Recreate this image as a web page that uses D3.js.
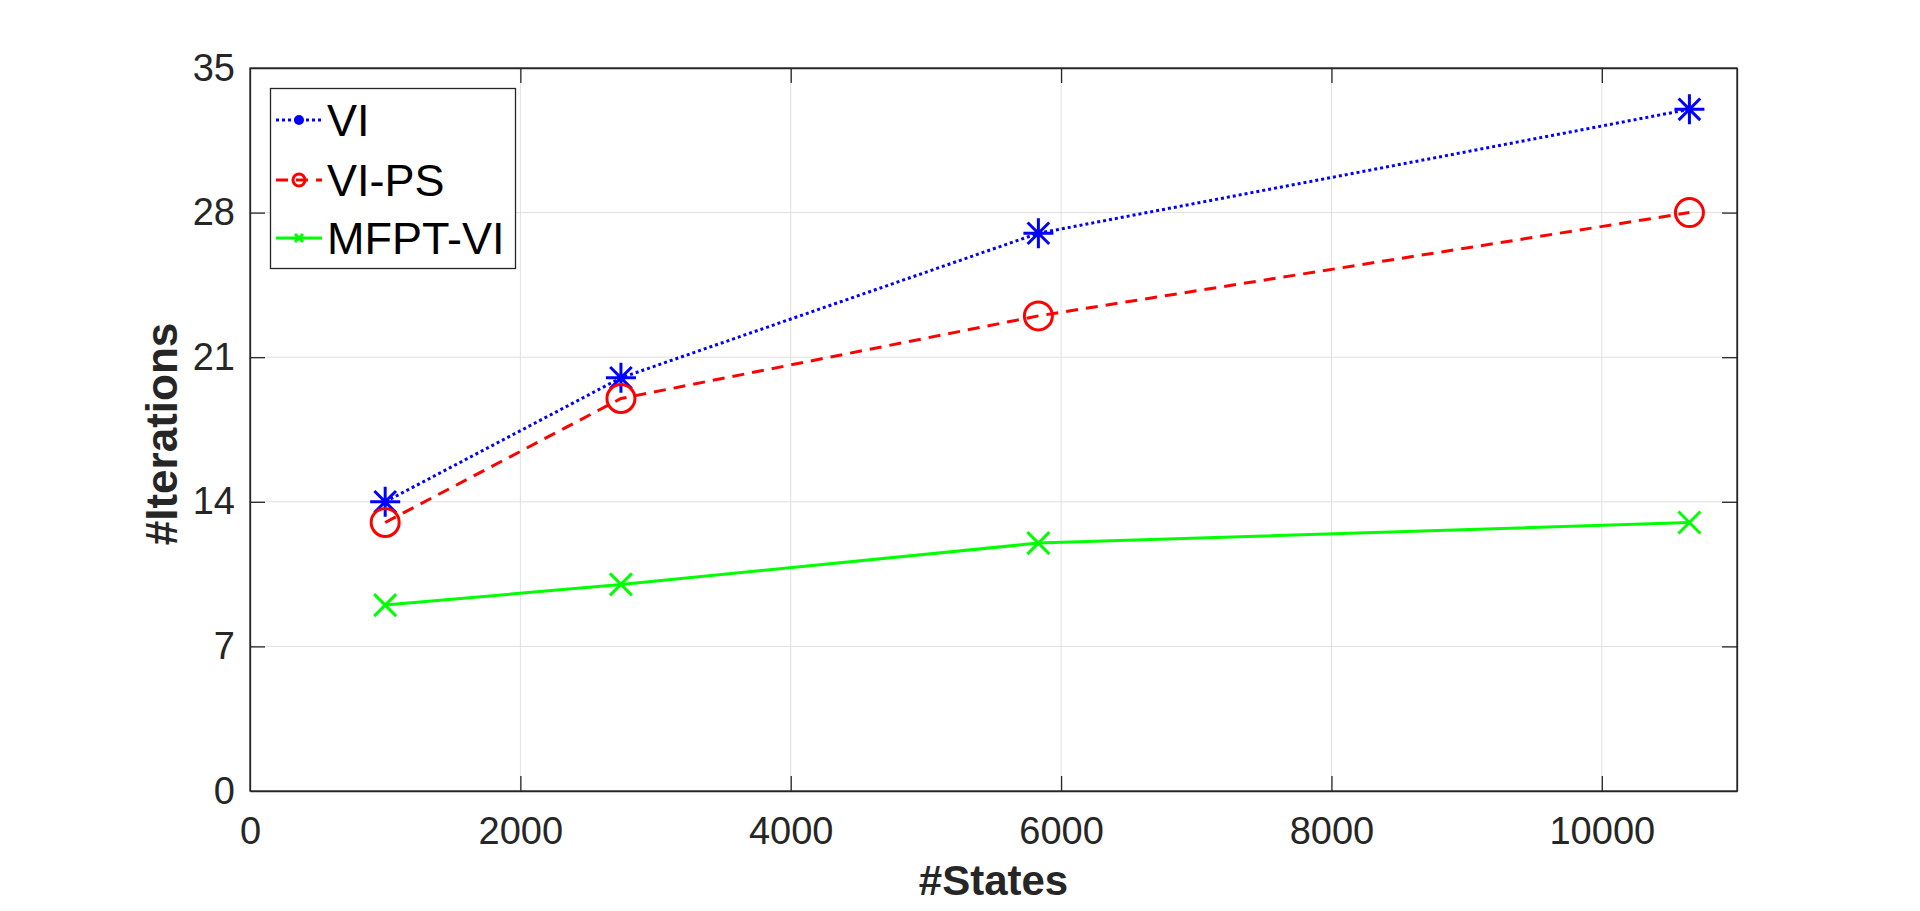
<!DOCTYPE html>
<html>
<head>
<meta charset="utf-8">
<script src="https://cdn.jsdelivr.net/npm/d3@7"></script>
<style>
  body { margin: 0; background: #fff; }
  text { font-family: Arial, "Liberation Sans", sans-serif; }
</style>
</head>
<body>
<svg id="chart" width="1920" height="911"></svg>
<script>
const states = [1000, 2744, 5832, 10648];
const viIters = [14, 20, 27, 33];
const vipsIters = [13, 19, 23, 28];
const mfptIters = [9, 10, 12, 13];
const xTicks = [0, 2000, 4000, 6000, 8000, 10000];
const yTicks = [0, 7, 14, 21, 28, 35];

const width = 1920, height = 911;
const margin = {left: 250, right: 183, top: 68, bottom: 120}; // plot box 250..1737, 68..791

const svg = d3.select("#chart");
svg.append("rect").attr("width", width).attr("height", height).attr("fill", "#fff");

const x = d3.scaleLinear().domain([0, 11000]).range([margin.left, width - margin.right]);
const y = d3.scaleLinear().domain([0, 35]).range([height - margin.bottom, margin.top]);

const axisColor = "#262626";

// grid
svg.append("g").selectAll("line")
    .data(xTicks.slice(1))
    .enter().append("line")
    .attr("x1", d => x(d)).attr("x2", d => x(d))
    .attr("y1", y(0)).attr("y2", y(35))
    .attr("stroke", "#dfdfdf").attr("stroke-width", 1);
svg.append("g").selectAll("line")
    .data(yTicks.slice(1, -1))
    .enter().append("line")
    .attr("x1", x(0)).attr("x2", x(11000))
    .attr("y1", d => y(d)).attr("y2", d => y(d))
    .attr("stroke", "#dfdfdf").attr("stroke-width", 1);

// axes with inward ticks, mirrored on top/right
const tickLen = 15;
const fmt = d3.format("d");
const bottomAxis = svg.append("g")
    .attr("transform", `translate(0,${y(0)})`)
    .call(d3.axisBottom(x).tickValues(xTicks).tickFormat(fmt).tickSizeInner(-tickLen).tickSizeOuter(0).tickPadding(26));
const topAxis = svg.append("g")
    .attr("transform", `translate(0,${y(35)})`)
    .call(d3.axisTop(x).tickValues(xTicks).tickSizeInner(-tickLen).tickSizeOuter(0).tickFormat(""));
const leftAxis = svg.append("g")
    .attr("transform", `translate(${x(0)},0)`)
    .call(d3.axisLeft(y).tickValues(yTicks).tickFormat(fmt).tickSizeInner(-tickLen).tickSizeOuter(0).tickPadding(15));
const rightAxis = svg.append("g")
    .attr("transform", `translate(${x(11000)},0)`)
    .call(d3.axisRight(y).tickValues(yTicks).tickSizeInner(-tickLen).tickSizeOuter(0).tickFormat(""));

[bottomAxis, topAxis, leftAxis, rightAxis].forEach(g => {
    g.select(".domain").attr("stroke", axisColor).attr("stroke-width", 1.3);
    g.selectAll(".tick line").attr("stroke", axisColor).attr("stroke-width", 1.3);
    g.selectAll(".tick text")
        .attr("fill", axisColor)
        .style("font-size", "38px")
        .style("font-family", "Arial, 'Liberation Sans', sans-serif");
});
// box round the plot
svg.append("rect")
    .attr("x", x(0)).attr("y", y(35))
    .attr("width", x(11000) - x(0)).attr("height", y(0) - y(35))
    .attr("fill", "none").attr("stroke", axisColor).attr("stroke-width", 1.3);
// no ticks at the corners
leftAxis.selectAll(".tick").filter(d => d === 0 || d === 35).select("line").remove();
rightAxis.selectAll(".tick").filter(d => d === 0 || d === 35).select("line").remove();
bottomAxis.selectAll(".tick").filter(d => d === 0).select("line").remove();
topAxis.selectAll(".tick").filter(d => d === 0).select("line").remove();

// axis titles
svg.append("text")
    .attr("x", (x(0) + x(11000)) / 2)
    .attr("y", 895)
    .attr("text-anchor", "middle")
    .attr("fill", axisColor)
    .style("font-size", "42px").style("font-weight", "bold")
    .text("#States");
svg.append("text")
    .attr("transform", `translate(177,434) rotate(-90)`)
    .attr("text-anchor", "middle")
    .attr("fill", axisColor)
    .style("font-size", "44px").style("font-weight", "bold")
    .text("#Iterations");

// marker drawing helpers
function asterisk(g, cx, cy, r, color, w) {
    const d = r * 0.72;
    const p = `M${cx - r},${cy}L${cx + r},${cy}M${cx},${cy - r}L${cx},${cy + r}` +
        `M${cx - d},${cy - d}L${cx + d},${cy + d}M${cx - d},${cy + d}L${cx + d},${cy - d}`;
    g.append("path").attr("d", p).attr("stroke", color).attr("stroke-width", w).attr("fill", "none");
}
function circle(g, cx, cy, r, color, w) {
    g.append("circle").attr("cx", cx).attr("cy", cy).attr("r", r)
        .attr("stroke", color).attr("stroke-width", w).attr("fill", "none");
}
function cross(g, cx, cy, r, color, w) {
    const p = `M${cx - r},${cy - r}L${cx + r},${cy + r}M${cx - r},${cy + r}L${cx + r},${cy - r}`;
    g.append("path").attr("d", p).attr("stroke", color).attr("stroke-width", w).attr("fill", "none");
}

const series = [
    {name: "VI", values: viIters, color: "#0000ff", dash: "3,3", marker: asterisk, size: 15, legSize: 5},
    {name: "VI-PS", values: vipsIters, color: "#ff0000", dash: "12,8", marker: circle, size: 14, legSize: 6},
    {name: "MFPT-VI", values: mfptIters, color: "#00ff00", dash: null, marker: cross, size: 11, legSize: 4}
];

const line = d3.line().x(d => x(d[0])).y(d => y(d[1]));

series.forEach(s => {
    const pts = states.map((st, i) => [st, s.values[i]]);
    svg.append("path")
        .datum(pts)
        .attr("d", line)
        .attr("fill", "none")
        .attr("stroke", s.color)
        .attr("stroke-width", 3)
        .attr("stroke-dasharray", s.dash);
    const mg = svg.append("g");
    pts.forEach(p => s.marker(mg, x(p[0]), y(p[1]), s.size, s.color, 3));
});

// legend
const legend = svg.append("g");
legend.append("rect")
    .attr("x", 270.5).attr("y", 88.5)
    .attr("width", 245).attr("height", 180)
    .attr("fill", "#fff").attr("stroke", axisColor).attr("stroke-width", 1.3);
const rowY = [120, 180, 238];
series.forEach((s, i) => {
    const ly = rowY[i];
    legend.append("line")
        .attr("x1", 276).attr("x2", 322)
        .attr("y1", ly).attr("y2", ly)
        .attr("stroke", s.color).attr("stroke-width", 3)
        .attr("stroke-dasharray", s.dash);
    if (s.marker === asterisk) {
        legend.append("circle").attr("cx", 299).attr("cy", ly).attr("r", s.legSize).attr("fill", s.color);
    } else {
        s.marker(legend, 299, ly, s.legSize, s.color, 3);
    }
    legend.append("text")
        .attr("x", 327).attr("y", ly + 16)
        .attr("fill", "#000")
        .style("font-size", "45px")
        .text(s.name);
});
</script>
</body>
</html>
